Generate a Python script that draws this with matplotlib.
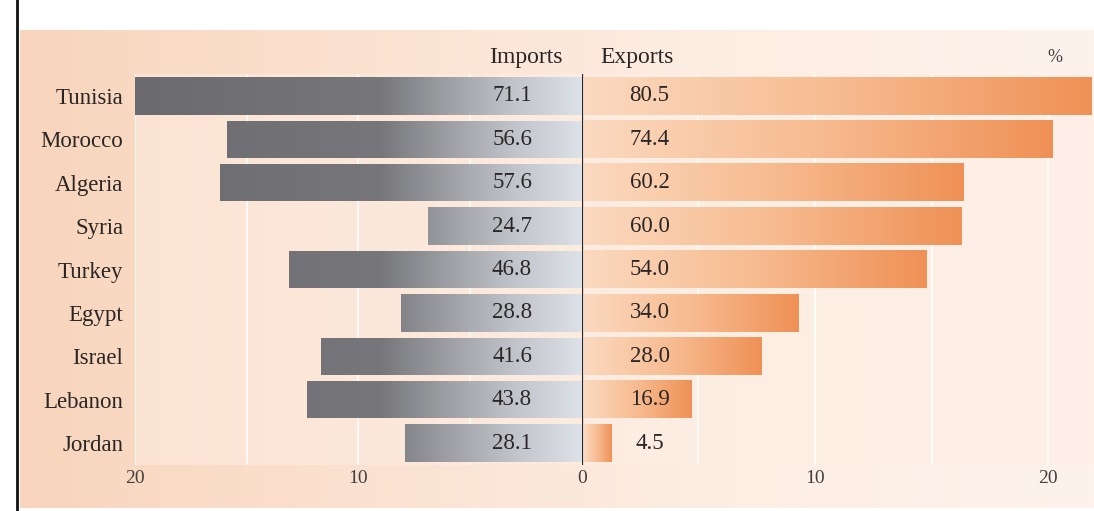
import numpy as np
import matplotlib
matplotlib.use("Agg")
import matplotlib.pyplot as plt
from matplotlib.colors import LinearSegmentedColormap
from matplotlib.lines import Line2D

countries = ["Tunisia", "Morocco", "Algeria", "Syria", "Turkey", "Egypt", "Israel", "Lebanon", "Jordan"]
imports_len = [20.0, 15.9, 16.2, 6.9, 13.1, 8.1, 11.7, 12.3, 7.9]
exports_len = [21.8, 20.1, 16.3, 16.2, 14.7, 9.2, 7.6, 4.6, 1.2]
imports_lbl = ["71.1", "56.6", "57.6", "24.7", "46.8", "28.8", "41.6", "43.8", "28.1"]
exports_lbl = ["80.5", "74.4", "60.2", "60.0", "54.0", "34.0", "28.0", "16.9", "4.5"]
left_ticks = [20, 10, 0]
right_ticks = [10, 20]

W, H = 1094, 511
plt.rcParams['font.family'] = ['Liberation Serif', 'DejaVu Serif']
TXT = "#2b2626"
TICK = "#454040"

fig = plt.figure(figsize=(W / 100, H / 100), dpi=100)
fig.patch.set_facecolor("white")

def fx(px):
    return px / W

def fy(py):
    return 1 - py / H

# background panel with soft gradient
bg = fig.add_axes([fx(20), fy(508), fx(1074), (508 - 30) / H], zorder=-5)
bg_cmap = LinearSegmentedColormap.from_list("bg", ["#f8d5bc", "#fbe2d1", "#fdeee4", "#fdf3ec"])
grad = np.linspace(0, 1, 256)[None, :]
bg.imshow(grad, aspect="auto", cmap=bg_cmap, extent=[0, 1, 0, 1])
bg.set_axis_off()

# left frame line of the scan
fig.add_artist(Line2D([fx(17), fx(17)], [0, 1], color="#111111", lw=2))

ax_top, ax_bot = 74.3, 464.7
axL = fig.add_axes([fx(135), fy(ax_bot), fx(582 - 135), (ax_bot - ax_top) / H])
axR = fig.add_axes([fx(582), fy(ax_bot), fx(W - 582), (ax_bot - ax_top) / H])

y = np.arange(len(countries))
imp_cmap = LinearSegmentedColormap.from_list(
    "imp", [(0.0, "#dde1e8"), (0.15, "#c1c4ca"), (0.3, "#9d9fa4"), (0.45, "#77777b"), (1.0, "#6b6b6f")])
exp_cmap = LinearSegmentedColormap.from_list("exp", ["#fbd9bf", "#f7bb90", "#ef9156"])

for ax in (axL, axR):
    ax.set_facecolor("#fdeee4")
    ax.patch.set_alpha(0.5)
    for s in ax.spines.values():
        s.set_visible(False)
    for g in [5, 10, 15, 20]:
        ax.axvline(g, color="white", lw=1.3, alpha=0.85, zorder=0.5)
    ax.tick_params(axis="both", length=0)

# imports bars (left)
barsL = axL.barh(y, imports_len, height=0.86, left=0, color="none", zorder=2)
for b in barsL:
    im = axL.imshow(np.linspace(0, 1, 256)[None, :], aspect="auto", cmap=imp_cmap,
                    extent=[0, 20, b.get_y() + b.get_height(), b.get_y()], zorder=2)
    im.set_clip_path(b)
axL.set_xlim(20, 0)
axL.set_ylim(8.5, -0.5)

# exports bars (right)
barsR = axR.barh(y, exports_len, height=0.86, left=0.1, color="none", zorder=2)
for b in barsR:
    x0 = b.get_x()
    x1 = x0 + b.get_width()
    axR.imshow(np.linspace(0, 1, 256)[None, :], aspect="auto", cmap=exp_cmap,
               extent=[x0, x1, b.get_y() + b.get_height(), b.get_y()], zorder=2)
axR.set_xlim(0, (W - 582) / 23.3)
axR.set_ylim(8.5, -0.5)

# value labels
for yi, lab in zip(y, imports_lbl):
    axL.text(3.13, yi, lab, ha="center", va="center", fontsize=16.5, color=TXT, zorder=5)
for yi, lab in zip(y, exports_lbl):
    axR.text(2.9, yi, lab, ha="center", va="center", fontsize=16.5, color=TXT, zorder=5)

# center line
axR.axvline(0, color="#2a2424", lw=1.6, zorder=6)

# country labels
axL.set_yticks(y)
axL.set_yticklabels(countries, fontsize=16.5, color=TXT)
axL.tick_params(axis="y", pad=8.5)
axR.set_yticks([])

axL.set_xticks(left_ticks)
axL.set_xticklabels([str(t) for t in left_ticks], fontsize=14, color=TICK)
axR.set_xticks(right_ticks)
axR.set_xticklabels([str(t) for t in right_ticks], fontsize=14, color=TICK)
axL.tick_params(axis="x", pad=4)
axR.tick_params(axis="x", pad=4)

# headers
fig.text(fx(526), fy(57), "Imports", ha="center", va="center", fontsize=17, color=TXT)
fig.text(fx(637), fy(57), "Exports", ha="center", va="center", fontsize=17, color=TXT)
fig.text(fx(1055), fy(58), "%", ha="center", va="center", fontsize=13, color=TICK)

fig.savefig("out.png", dpi=100, facecolor=fig.get_facecolor())
